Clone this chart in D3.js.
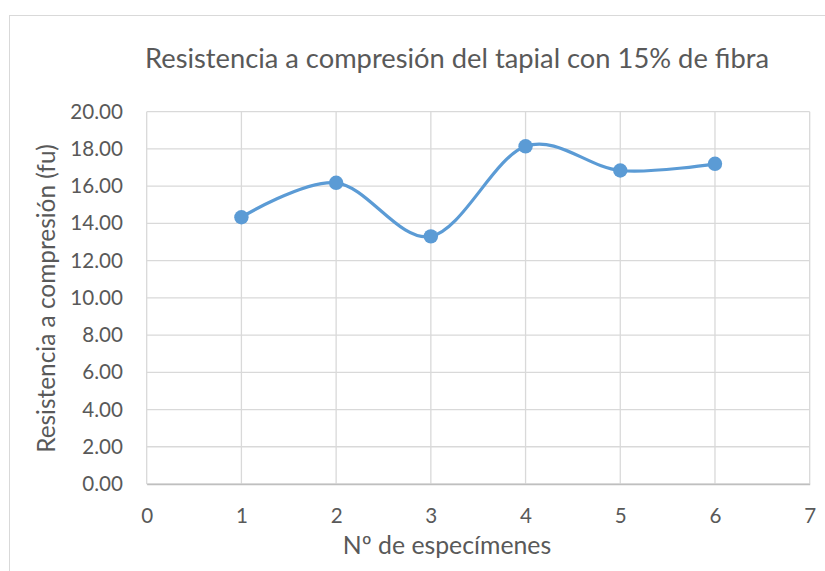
<!DOCTYPE html>
<html><head><meta charset="utf-8">
<script src="https://cdn.jsdelivr.net/npm/d3@7"></script>
<style>body{margin:0;background:#fff}svg{display:block}text{font-family:Lato,"Open Sans",sans-serif;fill:#595959}</style>
</head><body>
<script>
const specimens = [1, 2, 3, 4, 5, 6];
const strength = [14.33, 16.18, 13.30, 18.14, 16.84, 17.20];
const xTicks = [0, 1, 2, 3, 4, 5, 6, 7];
const yTicks = [0, 2, 4, 6, 8, 10, 12, 14, 16, 18, 20];
const title = "Resistencia a compresión del tapial con 15% de fibra";
const xTitle = "Nº de especímenes";
const yTitle = "Resistencia a compresión (fu)";

const W = 825, H = 571;
const svg = d3.select("body").append("svg").attr("width", W).attr("height", H);
svg.append("rect").attr("x", 9.5).attr("y", 15.5).attr("width", 830).attr("height", 600)
  .attr("fill", "#fff").attr("stroke", "#d9d9d9").attr("stroke-width", 1);

const x = d3.scaleLinear().domain([0, 7]).range([146.7, 809.7]);
const y = d3.scaleLinear().domain([0, 20]).range([484, 111.7]);

const g = svg.append("g");
g.selectAll(".hg").data(yTicks).join("line")
  .attr("x1", x(0)).attr("x2", x(7)).attr("y1", d => y(d)).attr("y2", d => y(d))
  .attr("stroke", "#d9d9d9").attr("stroke-width", 1.3);
g.selectAll(".vg").data(xTicks).join("line")
  .attr("y1", y(0)).attr("y2", y(20)).attr("x1", d => x(d)).attr("x2", d => x(d))
  .attr("stroke", "#d9d9d9").attr("stroke-width", 1.3);

const xAxis = d3.axisBottom(x).tickValues(xTicks).tickSize(0).tickPadding(24).tickFormat(d3.format("d"));
const gx = svg.append("g").attr("transform", `translate(0,${y(0)})`).call(xAxis);
gx.select(".domain").attr("stroke", "#bfbfbf").attr("stroke-width", 1.3);
gx.selectAll("text").attr("font-size", 20.6).attr("font-family", "Lato").style("fill", "#595959");

const yAxis = d3.axisLeft(y).tickValues(yTicks).tickSize(0).tickPadding(23.7).tickFormat(d3.format(".2f"));
const gy = svg.append("g").attr("transform", `translate(${x(0)},0)`).call(yAxis);
gy.select(".domain").remove();
gy.selectAll("text").attr("font-size", 20.6).attr("font-family", "Lato").style("fill", "#595959");

const data = specimens.map((s, i) => [s, strength[i]]);
const line = d3.line().x(d => x(d[0])).y(d => y(d[1])).curve(d3.curveCatmullRom.alpha(0));
svg.append("path").datum(data).attr("d", line).attr("fill", "none")
  .attr("stroke", "#5b9bd5").attr("stroke-width", 3.2).attr("stroke-linecap", "round");
svg.selectAll(".pt").data(data).join("circle")
  .attr("cx", d => x(d[0])).attr("cy", d => y(d[1])).attr("r", 7.2).attr("fill", "#5b9bd5");

svg.append("text").attr("x", 457).attr("y", 68).attr("text-anchor", "middle")
  .attr("font-size", 27.3).text(title);
svg.append("text").attr("x", 447).attr("y", 554).attr("text-anchor", "middle")
  .attr("font-size", 24.8).text(xTitle);
svg.append("text").attr("transform", "translate(55,298.5) rotate(-90)").attr("text-anchor", "middle")
  .attr("font-size", 24.4).text(yTitle);
</script>
</body></html>
